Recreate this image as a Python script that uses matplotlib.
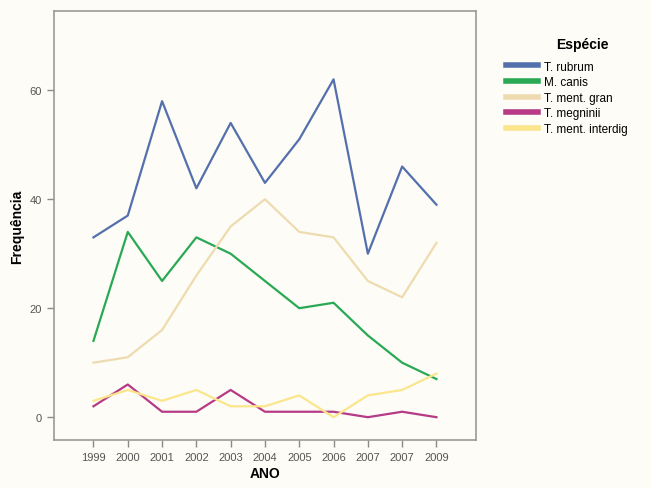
import matplotlib
matplotlib.use("Agg")
import matplotlib.pyplot as plt

# Data
anos = ["1999", "2000", "2001", "2002", "2003", "2004", "2005", "2006", "2007", "2007", "2009"]
t_rubrum = [33, 37, 58, 42, 54, 43, 51, 62, 30, 46, 39]
m_canis = [14, 34, 25, 33, 30, 25, 20, 21, 15, 10, 7]
t_ment_gran = [10, 11, 16, 26, 35, 40, 34, 33, 25, 22, 32]
t_megninii = [2, 6, 1, 1, 5, 1, 1, 1, 0, 1, 0]
t_ment_interdig = [3, 5, 3, 5, 2, 2, 4, 0, 4, 5, 8]

series = [
    ("T. rubrum", t_rubrum, "#5470ac"),
    ("M. canis", m_canis, "#2aa955"),
    ("T. ment. gran", t_ment_gran, "#eedcb0"),
    ("T. megninii", t_megninii, "#b63a85"),
    ("T. ment. interdig", t_ment_interdig, "#fbe68c"),
]

plt.rcParams["font.family"] = ["Liberation Sans Narrow", "Liberation Sans", "DejaVu Sans"]

bg = "#fdfcf7"
fig = plt.figure(figsize=(6.51, 4.89), dpi=100, facecolor=bg)
ax = fig.add_axes([0.083, 0.098, 0.648, 0.877], facecolor=bg)

x = list(range(len(anos)))
for name, vals, col in series:
    ax.plot(x, vals, color=col, linewidth=1.6, label=name)

ax.set_xlim(-1.15, 11.15)
ax.set_ylim(-4.2, 74.5)
ax.set_xticks(x)
ax.set_xticklabels(anos)
ax.set_yticks([0, 20, 40, 60])

for s in ax.spines.values():
    s.set_color("#9a9a9a")
    s.set_linewidth(1.2)
ax.tick_params(axis="both", colors="#8a8a8a", labelcolor="#555555",
               labelsize=8, length=5, width=1, direction="out")

ax.set_xlabel("ANO", fontsize=10, fontweight="bold", family="Liberation Sans", labelpad=3)
ax.set_ylabel("Frequência", fontsize=10, fontweight="bold", family="Liberation Sans", labelpad=4)

# legend title drawn separately to match spacing
fig.text(0.894, 0.908, "Espécie", ha="center", va="center", fontsize=10,
         fontweight="bold", family="Liberation Sans")
leg = fig.legend(loc="upper left", bbox_to_anchor=(0.778, 0.874), frameon=False,
                 fontsize=8.5, handlelength=2.7, handletextpad=0.5,
                 labelspacing=0.3, borderaxespad=0, borderpad=0)
for h in leg.legend_handles:
    h.set_linewidth(4)

fig.savefig("out.png", dpi=100, facecolor=bg)
